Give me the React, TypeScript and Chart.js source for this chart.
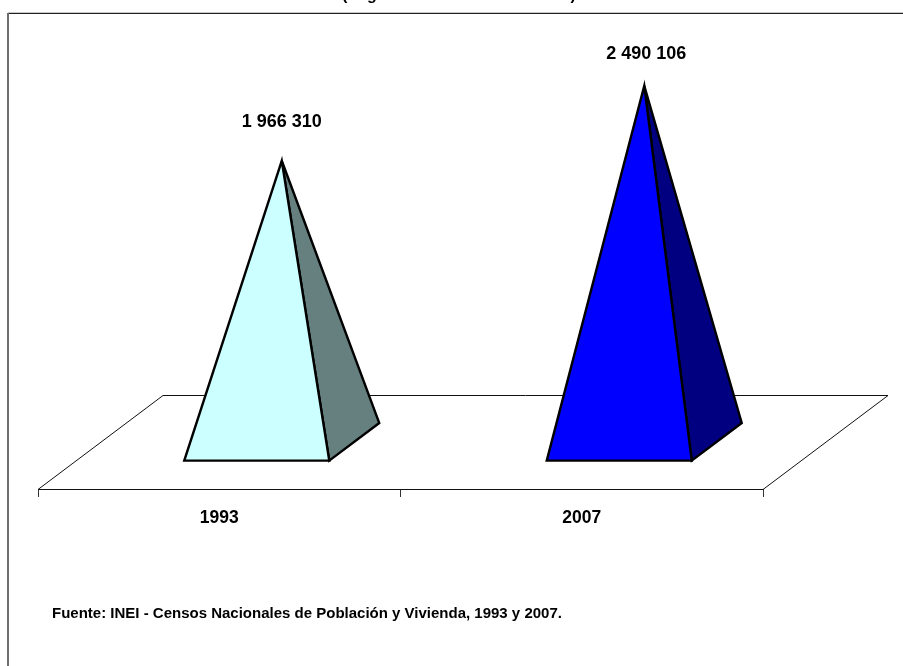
import React, { useEffect, useRef } from "react";
import { Chart, BarController, BarElement, CategoryScale, LinearScale } from "chart.js";

const years = ["1993", "2007"];
const hogares = [1966310, 2490106];
const valueLabels = ["1 966 310", "2 490 106"];
const frontColors = ["#CCFFFF", "#0000FF"];
const sideColors = ["#668080", "#000080"];
const titleText = "(Según los censos nacionales)";
const sourceText = "Fuente: INEI - Censos Nacionales de Población y Vivienda, 1993 y 2007.";

const FONT = '"Liberation Sans", Arial, sans-serif';
const DEPTH_X = 125;
const DEPTH_Y = 94;
const PYRAMID_DEPTH = 0.4;
const LABEL_GAP = [39, 32];
const LABEL_SHIFT = [0, 2];

class PyramidElement extends BarElement {
  draw(ctx: CanvasRenderingContext2D) {
    const { x, y, base, width } = (this as any).getProps(["x", "y", "base", "width"]);
    const o = (this as any).options;
    const apexX = x + DEPTH_X / 2;
    const frontY = base + (DEPTH_Y * PYRAMID_DEPTH) / 2;
    const backY = base - (DEPTH_Y * PYRAMID_DEPTH) / 2;
    const left = apexX - (DEPTH_X * PYRAMID_DEPTH) / 2 - width / 2;
    const right = left + width;
    const side = right + DEPTH_X * PYRAMID_DEPTH;
    ctx.save();
    ctx.lineWidth = 2.4;
    ctx.strokeStyle = "#000";
    ctx.lineJoin = "miter";
    ctx.miterLimit = 6;
    ctx.beginPath();
    ctx.moveTo(right, frontY);
    ctx.lineTo(side, backY);
    ctx.lineTo(apexX, y);
    ctx.closePath();
    ctx.fillStyle = o.borderColor;
    ctx.fill();
    ctx.stroke();
    ctx.beginPath();
    ctx.moveTo(left, frontY);
    ctx.lineTo(right, frontY);
    ctx.lineTo(apexX, y);
    ctx.closePath();
    ctx.fillStyle = o.backgroundColor;
    ctx.fill();
    ctx.stroke();
    ctx.restore();
  }
}
(PyramidElement as any).id = "pyramid";
(PyramidElement as any).defaults = {};

class PyramidController extends BarController {}
(PyramidController as any).id = "pyramid";
(PyramidController as any).defaults = { dataElementType: "pyramid" };

Chart.register(CategoryScale, LinearScale, BarController, BarElement, PyramidElement as any, PyramidController as any);

const scenePlugin = {
  id: "scene",
  beforeDraw(chart: any) {
    const { ctx, width, height } = chart;
    ctx.save();
    ctx.fillStyle = "#fff";
    ctx.fillRect(0, 0, width, height);
    ctx.fillStyle = "#000";
    ctx.font = `bold 16px ${FONT}`;
    ctx.textAlign = "center";
    ctx.textBaseline = "alphabetic";
    ctx.fillText(titleText, 459, 0);
    ctx.fillStyle = "#c8c8c8";
    ctx.fillRect(8, 12, width - 8, 1);
    ctx.fillStyle = "#222";
    ctx.fillRect(8, 13, width - 8, 1);
    ctx.fillStyle = "#6e6e6e";
    ctx.fillRect(7, 13, 2, height - 13);
    ctx.restore();
  },
  beforeDatasetsDraw(chart: any) {
    const { ctx, chartArea } = chart;
    const { left, right, bottom } = chartArea;
    ctx.save();
    ctx.strokeStyle = "#111";
    ctx.lineWidth = 1;
    ctx.beginPath();
    ctx.moveTo(left, bottom + 0.5);
    ctx.lineTo(left + DEPTH_X, bottom - DEPTH_Y + 0.5);
    ctx.lineTo(right + DEPTH_X, bottom - DEPTH_Y + 0.5);
    ctx.lineTo(right, bottom + 0.5);
    ctx.stroke();
    ctx.restore();
  },
  afterDraw(chart: any) {
    const { ctx } = chart;
    const meta = chart.getDatasetMeta(0);
    ctx.save();
    ctx.fillStyle = "#000";
    ctx.font = `bold 18px ${FONT}`;
    ctx.textAlign = "center";
    ctx.textBaseline = "middle";
    meta.data.forEach((el: any, i: number) => {
      ctx.fillText(valueLabels[i], el.x + DEPTH_X / 2 + LABEL_SHIFT[i], el.y - LABEL_GAP[i]);
    });
    ctx.font = `bold 15px ${FONT}`;
    ctx.textAlign = "left";
    ctx.fillText(sourceText, 52, 614);
    ctx.restore();
  },
};

export default function App() {
  const ref = useRef<HTMLCanvasElement>(null);
  useEffect(() => {
    const chart = new Chart(ref.current!, {
      type: "pyramid" as any,
      plugins: [scenePlugin],
      data: {
        labels: years,
        datasets: [
          {
            data: hogares,
            backgroundColor: frontColors,
            borderColor: sideColors,
            borderWidth: 0,
            categoryPercentage: 0.4,
            barPercentage: 1,
          } as any,
        ],
      },
      options: {
        responsive: false,
        animation: false,
        layout: { padding: { left: 38, right: 140, top: 23, bottom: 0 } },
        plugins: { legend: { display: false }, title: { display: false }, tooltip: { enabled: false } },
        scales: {
          x: {
            type: "category",
            offset: true,
            afterFit(scale: any) {
              scale.height = 177;
            },
            grid: {
              display: true,
              offset: true,
              drawOnChartArea: false,
              drawTicks: true,
              tickLength: 8,
              tickColor: "#333",
            },
            border: { display: true, color: "#111", width: 1 },
            ticks: {
              color: "#000",
              padding: 11,
              maxRotation: 0,
              font: { family: FONT, size: 17.5, weight: "bold" },
            },
          },
          y: {
            type: "linear",
            display: false,
            min: -330000,
            max: 2930000,
          },
        },
      } as any,
    });
    return () => chart.destroy();
  }, []);
  return (
    <div style={{ position: "absolute", left: 0, top: 0, width: 903, height: 666 }}>
      <canvas ref={ref} width={903} height={666} style={{ display: "block" }} />
    </div>
  );
}
